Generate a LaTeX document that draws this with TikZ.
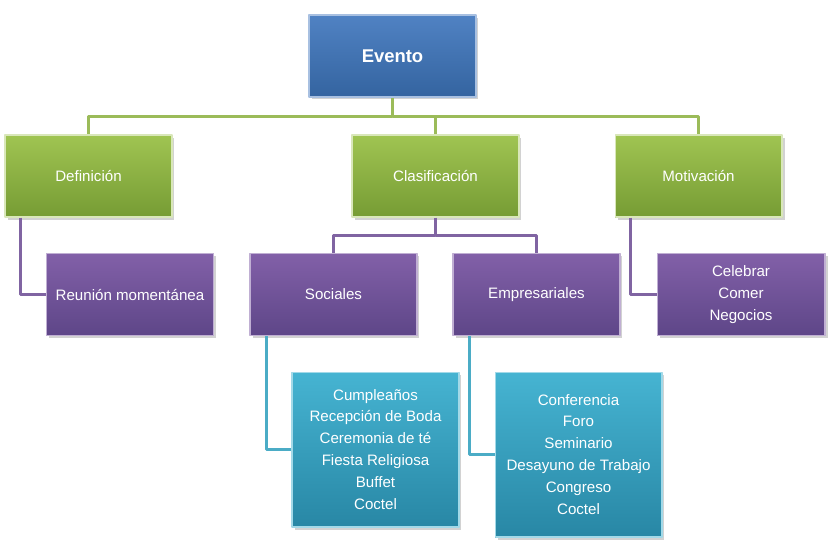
\documentclass[tikz,border=0pt]{standalone}
\usepackage{fontspec}
\setmainfont{Liberation Sans}
\usetikzlibrary{shadows}
\definecolor{evtop}{RGB}{80,130,195}
\definecolor{evbot}{RGB}{52,100,160}
\definecolor{grtop}{RGB}{160,196,82}
\definecolor{grbot}{RGB}{118,156,52}
\definecolor{putop}{RGB}{130,96,168}
\definecolor{pubot}{RGB}{94,70,136}
\definecolor{cytop}{RGB}{70,180,210}
\definecolor{cybot}{RGB}{40,135,165}
\definecolor{gline}{RGB}{155,187,89}
\definecolor{pline}{RGB}{128,100,162}
\definecolor{cline}{RGB}{75,172,198}
\begin{document}
\begin{tikzpicture}[x=0.02cm,y=-0.02cm,line join=round,
	box/.style={rectangle,align=center,text=white,minimum width=3.34cm,minimum height=1.64cm,
		font=\fontsize{8.6}{12.5}\selectfont,line width=0.6pt,
		drop shadow={shadow xshift=0.05cm,shadow yshift=-0.05cm,opacity=0.35}},
	topbox/.style={box,top color=evtop,bottom color=evbot,draw=evtop!50!white,font=\fontsize{10.5}{13}\selectfont\bfseries},
	greenbox/.style={box,top color=grtop,bottom color=grbot,draw=grtop!40!white},
	purplebox/.style={box,top color=putop,bottom color=pubot,draw=putop!50!white},
	cyanbox/.style={box,top color=cytop,bottom color=cybot,draw=cytop!50!white,minimum width=3.34cm},
	glink/.style={draw=gline,line width=1.2pt},
	plink/.style={draw=pline,line width=1.2pt},
	clink/.style={draw=cline,line width=1.2pt}]
	\useasboundingbox[fill=white] (0,0) rectangle (830,552);
	% nodes
	\node[topbox] (evento) at (392.5,56) {Evento};
	\node[greenbox] (def) at (88.5,176) {Definición};
	\node[greenbox] (clas) at (435.5,176) {Clasificación};
	\node[greenbox] (mot) at (698.5,176) {Motivación};
	\node[purplebox] (reu) at (130,294.5) {Reunión momentánea};
	\node[purplebox] (soc) at (333.5,294.5) {Sociales};
	\node[purplebox] (emp) at (536.5,294.5) {Empresariales};
	\node[purplebox,minimum width=3.36cm] (cel) at (741,294.5) {Celebrar\\Comer\\Negocios};
	\node[cyanbox,minimum height=3.1cm] (socl) at (375.5,449.5) {Cumpleaños\\Recepción de Boda\\Ceremonia de té\\Fiesta Religiosa\\Buffet\\Coctel};
	\node[cyanbox,minimum height=3.3cm] (empl) at (578.5,454.5) {Conferencia\\Foro\\Seminario\\Desayuno de Trabajo\\Congreso\\Coctel};
	% connectors
	\draw[glink] (evento.south) -- ++(0,19) -| (def.north);
	\draw[glink] (evento.south) ++(0,19) -| (clas.north);
	\draw[glink] (evento.south) ++(0,19) -| (mot.north);
	\draw[plink] (clas.south) -- ++(0,18) -| (soc.north);
	\draw[plink] (clas.south) ++(0,18) -| (emp.north);
	\draw[plink] (def.south west) ++(16,0) |- (reu.west);
	\draw[plink] (mot.south west) ++(16,0) |- (cel.west);
	\draw[clink] (soc.south west) ++(17,0) |- (socl.west);
	\draw[clink] (emp.south west) ++(17,0) |- (empl.west);
\end{tikzpicture}
\end{document}
